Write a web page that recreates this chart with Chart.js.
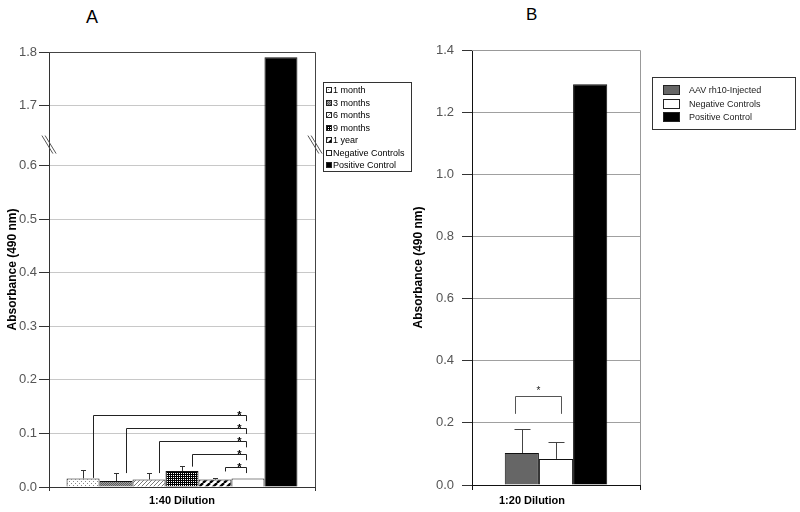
<!DOCTYPE html>
<html>
<head>
<meta charset="utf-8">
<script src="https://cdn.jsdelivr.net/npm/chart.js@4.4.1/dist/chart.umd.min.js"></script>
<style>
  body { margin: 0; background: #fff; font-family: 'Liberation Sans', Arial, sans-serif; }
  .figure { position: relative; width: 800px; height: 512px; overflow: hidden; background: #fff; }
  .panel { position: absolute; top: 0; height: 512px; }
  #panelA { left: 0; width: 405px; }
  #panelB { left: 405px; width: 395px; }
  .panel-letter { position: absolute; line-height: 1; color: #000; }
  .legend { position: absolute; margin: 0; list-style: none; box-sizing: border-box; border: 1px solid #333; background: #fff; }
  .legend li { display: flex; align-items: center; white-space: nowrap; }
  .legend canvas { display: block; border: 1px solid #222; }
  .legend-a { left: 323px; top: 82px; width: 89px; height: 90px; padding: 1px 0 0 2px; font-size: 9px; color: #000; }
  .legend-a li { height: 12.5px; }
  .legend-a canvas { margin-right: 1px; }
  .legend-b { left: 652px; top: 77px; width: 144px; height: 53px; padding: 5px 0 0 10px; font-size: 9px; color: #222; }
  .legend-b li { height: 13.7px; }
  .legend-b canvas { margin-right: 9px; }
</style>
</head>
<body>
<div class="figure">
  <div class="panel-letter" style="left:86px; top:8px; font-size:18px;">A</div>
  <div class="panel-letter" style="left:526px; top:6px; font-size:17px;">B</div>
  <div class="panel" id="panelA"><canvas id="chartA"></canvas></div>
  <div class="panel" id="panelB"><canvas id="chartB"></canvas></div>
  <ul class="legend legend-a" id="legendA"></ul>
  <ul class="legend legend-b" id="legendB"></ul>
</div>
<script>
const FONT = "'Liberation Sans', Arial, sans-serif";

// Panel A: 1:40 dilution
const categoryA = ['1:40 Dilution'];
const seriesA = ['1 month', '3 months', '6 months', '9 months', '1 year', 'Negative Controls', 'Positive Control'];
const meansA = [0.016, 0.011, 0.014, 0.030, 0.014, 0.016, 1.79];
const errorsA = [0.016, 0.015, 0.012, 0.009, 0.003, null, null];
const tickValuesA = [0, 0.1, 0.2, 0.3, 0.4, 0.5, 0.6, 1.7, 1.8];
const tickLabelsA = ['0.0', '0.1', '0.2', '0.3', '0.4', '0.5', '0.6', '1.7', '1.8'];
// significance brackets: each group vs Negative Controls
const bracketTopsA = [0.135, 0.111, 0.086, 0.062, 0.038];
const bracketLeftEndsA = [0.017, 0.026, 0.026, 0.038, 0.029];
const bracketRightEndsA = [0.123, 0.099, 0.074, 0.050, 0.026];

// Panel B: 1:20 dilution
const categoryB = ['1:20 Dilution'];
const seriesB = ['AAV rh10-Injected', 'Negative Controls', 'Positive Control'];
const meansB = [0.103, 0.084, 1.29];
const errorsB = [0.077, 0.056, null];
const tickValuesB = [0, 0.2, 0.4, 0.6, 0.8, 1.0, 1.2, 1.4];
const bracketB = [0.287, 0.229];

// broken axis: values above the break are pulled down
const BREAK_A = 1.0;
const BREAK_SHIFT_A = 0.988;
const toDisplayA = v => (v > BREAK_A ? v - BREAK_SHIFT_A : v);

function makeTile(size, paint) {
  const tile = document.createElement('canvas');
  tile.width = size;
  tile.height = size;
  paint(tile.getContext('2d'), size);
  return tile;
}

const tilesA = [
  makeTile(4, g => {
    g.fillStyle = '#fff'; g.fillRect(0, 0, 4, 4);
    g.fillStyle = '#8a8a8a'; g.fillRect(1, 1, 1, 1); g.fillRect(3, 3, 1, 1);
  }),
  makeTile(2, g => {
    g.fillStyle = '#a0a0a0'; g.fillRect(0, 0, 2, 2);
    g.fillStyle = '#5e5e5e'; g.fillRect(0, 0, 1, 1); g.fillRect(1, 1, 1, 1);
  }),
  makeTile(4, g => {
    g.fillStyle = '#fff'; g.fillRect(0, 0, 4, 4);
    g.fillStyle = '#7a7a7a';
    for (let i = 0; i < 4; i++) g.fillRect(i, 3 - i, 1, 1);
  }),
  makeTile(4, g => {
    g.fillStyle = '#000'; g.fillRect(0, 0, 4, 4);
    g.fillStyle = '#fff';
    [[1, 1], [3, 3], [1, 3], [3, 1]].forEach(([x, y]) => g.fillRect(x, y, 1, 1));
  }),
  makeTile(7, g => {
    g.fillStyle = '#fff'; g.fillRect(0, 0, 7, 7);
    g.strokeStyle = '#000'; g.lineWidth = 2.4;
    [-7, 0, 7].forEach(d => { g.beginPath(); g.moveTo(d, 7); g.lineTo(d + 7, 0); g.stroke(); });
  }),
  null,
  null,
];
const plainFillsA = [null, null, null, null, null, '#fff', '#000'];
const fillsB = ['#666', '#fff', '#000'];

function fillA(ctx, i) {
  return tilesA[i] ? ctx.createPattern(tilesA[i], 'repeat') : plainFillsA[i];
}

function renderLegend(containerId, labels, width, height, fillFor) {
  const container = document.getElementById(containerId);
  container.innerHTML = '';
  labels.forEach((label, i) => {
    const li = document.createElement('li');
    const swatch = document.createElement('canvas');
    swatch.width = width;
    swatch.height = height;
    const g = swatch.getContext('2d');
    g.fillStyle = fillFor(g, i);
    g.fillRect(0, 0, width, height);
    const text = document.createElement('span');
    text.textContent = label;
    li.appendChild(swatch);
    li.appendChild(text);
    container.appendChild(li);
  });
}

function drawLine(ctx, points) {
  ctx.beginPath();
  points.forEach(([x, y], k) => (k === 0 ? ctx.moveTo(x, y) : ctx.lineTo(x, y)));
  ctx.stroke();
}

const decorationsA = {
  id: 'decorationsA',
  afterDatasetsDraw(chart) {
    const { ctx, chartArea: area, scales: { y } } = chart;
    ctx.save();
    ctx.lineWidth = 1;

    // top and right frame
    ctx.strokeStyle = '#444';
    drawLine(ctx, [[area.left, area.top + 0.5], [area.right + 0.5, area.top + 0.5], [area.right + 0.5, area.bottom]]);

    // axis break marks
    const yBreak = y.getPixelForValue(0.6 + (toDisplayA(1.7) - 0.6) * 0.35);
    ctx.strokeStyle = '#555';
    [area.left, area.right].forEach(x => {
      [-1.6, 1.6].forEach(d => drawLine(ctx, [[x - 5.5 + d, yBreak - 9], [x + 5.5 + d, yBreak + 9]]));
    });

    // error bars (upper only)
    ctx.strokeStyle = '#333';
    errorsA.forEach((err, i) => {
      if (err == null) return;
      const bar = chart.getDatasetMeta(i).data[0];
      const yTop = Math.round(y.getPixelForValue(toDisplayA(meansA[i] + err))) + 0.5;
      const x = Math.round(bar.x) + 0.5;
      drawLine(ctx, [[x, bar.y], [x, yTop]]);
      drawLine(ctx, [[x - 2.5, yTop], [x + 2.5, yTop]]);
    });

    // significance brackets against Negative Controls
    const target = chart.getDatasetMeta(5).data[0];
    const xR = Math.round(target.x - 2) + 0.5;
    ctx.strokeStyle = '#222';
    ctx.fillStyle = '#000';
    ctx.font = `bold 11px ${FONT}`;
    ctx.textAlign = 'center';
    ctx.textBaseline = 'alphabetic';
    bracketTopsA.forEach((top, k) => {
      const from = chart.getDatasetMeta(k).data[0];
      const xL = Math.round(from.x + from.width * 0.3) + 0.5;
      const yTop = Math.round(y.getPixelForValue(top)) + 0.5;
      drawLine(ctx, [
        [xL, y.getPixelForValue(bracketLeftEndsA[k])],
        [xL, yTop],
        [xR, yTop],
        [xR, y.getPixelForValue(bracketRightEndsA[k])],
      ]);
      ctx.fillText('*', xR - 7, yTop + 3);
    });
    ctx.restore();
  },
};

const decorationsB = {
  id: 'decorationsB',
  afterDatasetsDraw(chart) {
    const { ctx, chartArea: area, scales: { y } } = chart;
    ctx.save();
    ctx.lineWidth = 1;

    ctx.strokeStyle = '#999';
    drawLine(ctx, [[area.left, area.top + 0.5], [area.right + 0.5, area.top + 0.5], [area.right + 0.5, area.bottom]]);

    ctx.strokeStyle = '#444';
    errorsB.forEach((err, i) => {
      if (err == null) return;
      const bar = chart.getDatasetMeta(i).data[0];
      const yTop = Math.round(y.getPixelForValue(meansB[i] + err)) + 0.5;
      const x = Math.round(bar.x) + 0.5;
      drawLine(ctx, [[x, bar.y], [x, yTop]]);
      drawLine(ctx, [[x - 8, yTop], [x + 8, yTop]]);
    });

    const left = chart.getDatasetMeta(0).data[0];
    const right = chart.getDatasetMeta(1).data[0];
    const xL = Math.round(left.x - 7) + 0.5;
    const xR = Math.round(right.x + 5) + 0.5;
    const yTop = Math.round(y.getPixelForValue(bracketB[0])) + 0.5;
    const yEnd = y.getPixelForValue(bracketB[1]);
    ctx.strokeStyle = '#555';
    drawLine(ctx, [[xL, yEnd], [xL, yTop], [xR, yTop], [xR, yEnd]]);
    ctx.fillStyle = '#222';
    ctx.font = `10px ${FONT}`;
    ctx.textAlign = 'center';
    ctx.fillText('*', (xL + xR) / 2, yTop - 3);
    ctx.restore();
  },
};

function renderChartA() {
  const ctx = document.getElementById('chartA').getContext('2d');
  const datasets = seriesA.map((label, i) => ({
    label,
    data: [toDisplayA(meansA[i])],
    backgroundColor: fillA(ctx, i),
    borderColor: '#111',
    borderWidth: 1,
    barPercentage: 1,
    categoryPercentage: 0.868,
  }));

  new Chart(ctx, {
    type: 'bar',
    data: { labels: categoryA, datasets },
    options: {
      responsive: true,
      maintainAspectRatio: false,
      animation: false,
      events: [],
      layout: { padding: { top: 52, right: 90, bottom: 0, left: 0 } },
      plugins: { legend: { display: false }, tooltip: { enabled: false } },
      scales: {
        x: {
          grid: { drawOnChartArea: false, tickLength: 4, tickColor: '#333' },
          border: { color: '#333' },
          ticks: { color: '#000', padding: 3, font: { family: FONT, size: 11, weight: 'bold' } },
          afterFit: axis => { axis.height = 25; },
        },
        y: {
          min: 0,
          max: toDisplayA(1.8),
          afterBuildTicks: axis => { axis.ticks = tickValuesA.map(v => ({ value: toDisplayA(v) })); },
          grid: { color: '#c8c8c8', tickColor: '#333', tickLength: 10 },
          border: { color: '#333' },
          ticks: {
            color: '#555',
            padding: 2,
            font: { family: FONT, size: 13 },
            callback: (value, index) => tickLabelsA[index],
          },
          title: {
            display: true,
            text: 'Absorbance (490 nm)',
            color: '#000',
            padding: { top: 5, bottom: 0 },
            font: { family: FONT, size: 12, weight: 'bold' },
          },
          afterFit: axis => { axis.width = 49; },
        },
      },
    },
    plugins: [decorationsA],
  });

  renderLegend('legendA', seriesA, 4, 4, fillA);
}

function renderChartB() {
  const ctx = document.getElementById('chartB').getContext('2d');
  const datasets = seriesB.map((label, i) => ({
    label,
    data: [meansB[i]],
    backgroundColor: fillsB[i],
    borderColor: '#111',
    borderWidth: 1,
    barPercentage: 1,
    categoryPercentage: 0.61,
  }));

  new Chart(ctx, {
    type: 'bar',
    data: { labels: categoryB, datasets },
    options: {
      responsive: true,
      maintainAspectRatio: false,
      animation: false,
      events: [],
      layout: { padding: { top: 50, right: 160, bottom: 0, left: 0 } },
      plugins: { legend: { display: false }, tooltip: { enabled: false } },
      scales: {
        x: {
          grid: { drawOnChartArea: false, tickLength: 5, tickColor: '#111' },
          border: { color: '#111' },
          ticks: { color: '#000', padding: 4, labelOffset: -24, font: { family: FONT, size: 11, weight: 'bold' } },
          afterFit: axis => { axis.height = 27; },
        },
        y: {
          min: 0,
          max: 1.4,
          afterBuildTicks: axis => { axis.ticks = tickValuesB.map(v => ({ value: v })); },
          grid: { color: '#a0a0a0', tickColor: '#333', tickLength: 10 },
          border: { color: '#111' },
          ticks: {
            color: '#555',
            padding: 8,
            font: { family: FONT, size: 13 },
            callback: value => value.toFixed(1),
          },
          title: {
            display: true,
            text: 'Absorbance (490 nm)',
            color: '#000',
            padding: { top: 6, bottom: 0 },
            font: { family: FONT, size: 12, weight: 'bold' },
          },
          afterFit: axis => { axis.width = 67; },
        },
      },
    },
    plugins: [decorationsB],
  });

  renderLegend('legendB', seriesB, 15, 8, (g, i) => fillsB[i]);
}

renderChartA();
renderChartB();
</script>
</body>
</html>
